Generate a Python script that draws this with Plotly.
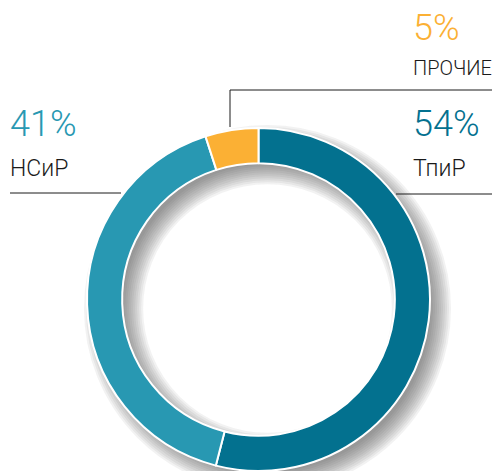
import plotly.graph_objects as go

# the page body has an 8px margin, so the figure is 8px smaller than the window
OFF = 8
W, H = 500 - OFF, 471 - OFF

labels = ["ТпиР", "НСиР", "ПРОЧИЕ"]
values = [54, 41, 5]
pct_text = ["54%", "41%", "5%"]
colors = ["#03718F", "#2898B2", "#FBB034"]


def px(x):
    # window pixel -> paper x
    return (x - OFF) / W


def py(y):
    # window pixel -> paper y
    return 1 - (y - OFF) / H


# donut geometry in window pixels
cx, cy, r_out = 258.5, 299.5, 171.5
hole = 0.795

fig = go.Figure()
fig.add_trace(go.Pie(
    labels=labels,
    values=values,
    hole=hole,
    sort=False,
    direction="clockwise",
    rotation=0,
    textinfo="none",
    hoverinfo="label+percent",
    marker=dict(colors=colors, line=dict(color="white", width=2)),
    domain=dict(x=[px(cx - r_out), px(cx + r_out)], y=[0, py(cy - r_out)]),
    showlegend=False,
))

shapes = []

# soft drop shadow made from stacked translucent rings
r_in = r_out * hole
r_mid = (r_out + r_in) / 2
ring_w = r_out - r_in
sx, sy = cx + 9, cy + 9
for k in range(11):
    w = ring_w - 16 + 4 * k
    shapes.append(dict(
        type="circle", xref="paper", yref="paper", layer="below",
        x0=px(sx - r_mid), x1=px(sx + r_mid),
        y0=py(sy + r_mid), y1=py(sy - r_mid),
        line=dict(color="rgba(80,80,80,0.075)", width=w),
        fillcolor="rgba(0,0,0,0)",
    ))

line_style = dict(color="#1a1a1a", width=1)
# ПРОЧИЕ leader
shapes.append(dict(type="line", xref="paper", yref="paper",
                   x0=px(230), x1=px(500), y0=py(90), y1=py(90), line=line_style))
shapes.append(dict(type="line", xref="paper", yref="paper",
                   x0=px(230), x1=px(230), y0=py(90), y1=py(127), line=line_style))
# ТпиР leader
shapes.append(dict(type="line", xref="paper", yref="paper",
                   x0=px(396), x1=px(500), y0=py(194), y1=py(194), line=line_style))
# НСиР leader
shapes.append(dict(type="line", xref="paper", yref="paper",
                   x0=px(10), x1=px(121), y0=py(193), y1=py(193), line=line_style))

font_family = "Roboto, 'Liberation Sans', Arial, sans-serif"
annotations = []
# (x of left edge, y of big number middle, y of label middle, label size)
text_pos = {
    "ТпиР": (411, 124, 168, 23),
    "НСиР": (8, 124, 168, 23),
    "ПРОЧИЕ": (411, 28, 68, 20),
}
for lab, pct, col in zip(labels, pct_text, colors):
    x, y_pct, y_lab, size = text_pos[lab]
    annotations.append(dict(
        x=px(x), y=py(y_pct), xref="paper", yref="paper",
        xanchor="left", yanchor="middle", showarrow=False, text=pct,
        font=dict(family=font_family, size=36, color=col, weight=300),
    ))
    annotations.append(dict(
        x=px(x), y=py(y_lab), xref="paper", yref="paper",
        xanchor="left", yanchor="middle", showarrow=False, text=lab,
        font=dict(family=font_family, size=size, color="#1a1a1a", weight=300),
    ))

fig.update_layout(
    width=W, height=H,
    margin=dict(l=0, r=0, t=0, b=0),
    paper_bgcolor="white",
    plot_bgcolor="white",
    shapes=shapes,
    annotations=annotations,
)

fig.write_html("out.html")
